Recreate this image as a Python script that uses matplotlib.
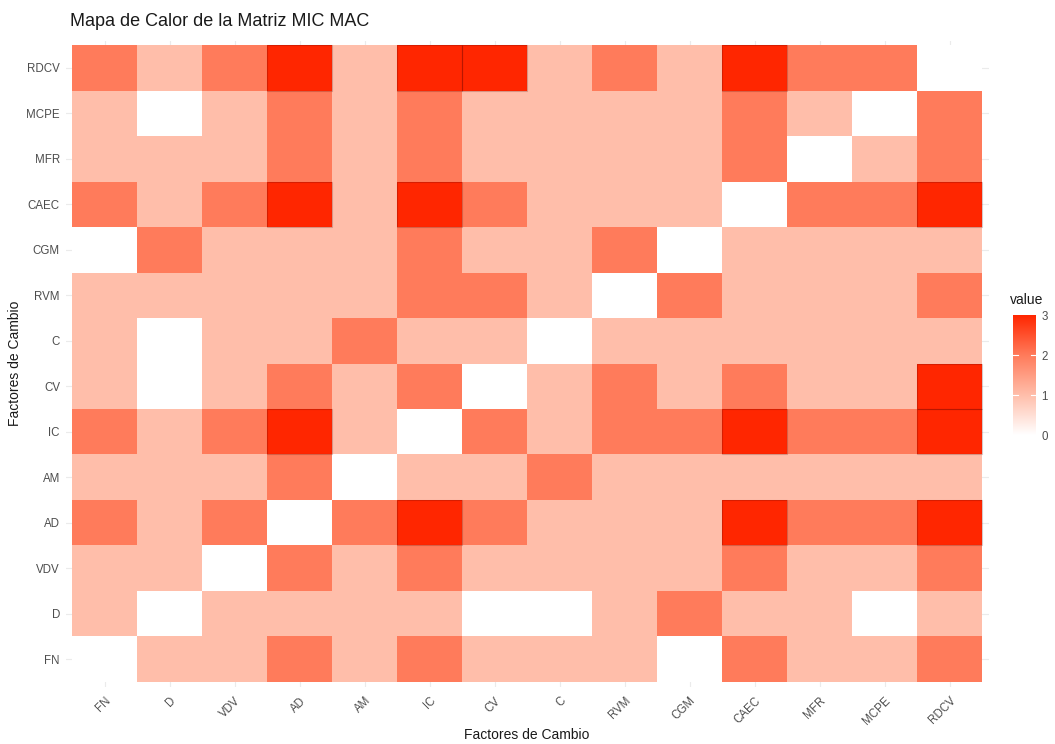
import numpy as np
import matplotlib
matplotlib.use("Agg")
import matplotlib.pyplot as plt
from matplotlib.colors import LinearSegmentedColormap
from matplotlib.patches import Rectangle

plt.rcParams['font.family'] = ['Liberation Sans', 'DejaVu Sans']

factors = ["FN", "D", "VDV", "AD", "AM", "IC", "CV", "C", "RVM", "CGM",
           "CAEC", "MFR", "MCPE", "RDCV"]

# rows in order of factors (FN bottom ... RDCV top), columns in order of factors
row_FN   = [0, 1, 1, 2, 1, 2, 1, 1, 1, 0, 2, 1, 1, 2]
row_D    = [1, 0, 1, 1, 1, 1, 0, 0, 1, 2, 1, 1, 0, 1]
row_VDV  = [1, 1, 0, 2, 1, 2, 1, 1, 1, 1, 2, 1, 1, 2]
row_AD   = [2, 1, 2, 0, 2, 3, 2, 1, 1, 1, 3, 2, 2, 3]
row_AM   = [1, 1, 1, 2, 0, 1, 1, 2, 1, 1, 1, 1, 1, 1]
row_IC   = [2, 1, 2, 3, 1, 0, 2, 1, 2, 2, 3, 2, 2, 3]
row_CV   = [1, 0, 1, 2, 1, 2, 0, 1, 2, 1, 2, 1, 1, 3]
row_C    = [1, 0, 1, 1, 2, 1, 1, 0, 1, 1, 1, 1, 1, 1]
row_RVM  = [1, 1, 1, 1, 1, 2, 2, 1, 0, 2, 1, 1, 1, 2]
row_CGM  = [0, 2, 1, 1, 1, 2, 1, 1, 2, 0, 1, 1, 1, 1]
row_CAEC = [2, 1, 2, 3, 1, 3, 2, 1, 1, 1, 0, 2, 2, 3]
row_MFR  = [1, 1, 1, 2, 1, 2, 1, 1, 1, 1, 2, 0, 1, 2]
row_MCPE = [1, 0, 1, 2, 1, 2, 1, 1, 1, 1, 2, 1, 0, 2]
row_RDCV = [2, 1, 2, 3, 1, 3, 3, 1, 2, 1, 3, 2, 2, 0]

matrix = np.array([row_FN, row_D, row_VDV, row_AD, row_AM, row_IC, row_CV,
                   row_C, row_RVM, row_CGM, row_CAEC, row_MFR, row_MCPE, row_RDCV])

cmap = LinearSegmentedColormap.from_list(
    "micmac", [(0, "#FFFFFF"), (1/3, "#FFBEAA"), (2/3, "#FF7B5B"), (1, "#FF2600")])

W, H = 1055, 744
fig = plt.figure(figsize=(W/100, H/100), dpi=100)
fig.patch.set_facecolor("white")

def px_axes(x0, y0, x1, y1):
    return fig.add_axes([x0/W, 1 - y1/H, (x1-x0)/W, (y1-y0)/H])

ax = px_axes(65.5, 40.5, 988.5, 686.5)
n = len(factors)
ax.set_xlim(-0.6, n - 0.4)
ax.set_ylim(-0.6, n - 0.4)
for i in range(n):
    ax.axvline(i, color="#EBEBEB", lw=0.8, zorder=0)
    ax.axhline(i, color="#EBEBEB", lw=0.8, zorder=0)

edges = np.arange(n + 1) - 0.5
ax.pcolormesh(edges, edges, matrix, cmap=cmap, vmin=0, vmax=3, zorder=1)
for r in range(n):
    for c in range(n):
        if matrix[r, c] == 3:
            ax.add_patch(Rectangle((c - 0.5, r - 0.5), 1, 1, fill=False,
                                   ec=(0.3, 0, 0, 0.22), lw=0.8, zorder=2))

for s in ax.spines.values():
    s.set_visible(False)
ax.set_xticks(range(n))
ax.set_yticks(range(n))
ax.set_xticklabels(factors, rotation=45, ha="right", va="top",
                   rotation_mode="anchor", fontsize=8.3, color="#4D4D4D")
ax.set_yticklabels(factors, fontsize=8.3, color="#4D4D4D")
ax.tick_params(length=0, pad=4)
ax.tick_params(axis="x", pad=6)

fig.text(527/W, 1 - 735/H, "Factores de Cambio", fontsize=10,
         color="#1A1A1A", ha="center", va="center")
fig.text(15/W, 1 - 363/H, "Factores de Cambio", fontsize=10, rotation=90,
         color="#1A1A1A", ha="center", va="center")
fig.text(70/W, 1 - 22/H, "Mapa de Calor de la Matriz MIC MAC", fontsize=13,
         color="#1A1A1A", ha="left", va="center")

# colorbar
cax = px_axes(1013, 315, 1036, 435)
grad = np.linspace(0, 3, 256).reshape(-1, 1)
cax.imshow(grad, aspect="auto", cmap=cmap, origin="lower",
           extent=[0, 1, 0, 3], vmin=0, vmax=3)
cax.set_xlim(0, 1)
cax.set_ylim(0, 3)
for v in [1, 2]:
    cax.plot([0, 0.2], [v, v], color="white", lw=0.8)
    cax.plot([0.8, 1], [v, v], color="white", lw=0.8)
for s in cax.spines.values():
    s.set_visible(False)
cax.set_xticks([])
cax.yaxis.tick_right()
cax.set_yticks([0, 1, 2, 3])
cax.set_yticklabels(["0", "1", "2", "3"], fontsize=8.3, color="#4D4D4D")
cax.tick_params(length=0, pad=4)
fig.text(1010/W, 1 - 300/H, "value", fontsize=10, color="#1A1A1A",
         ha="left", va="center")

fig.savefig("out.png", dpi=100, facecolor="white")
